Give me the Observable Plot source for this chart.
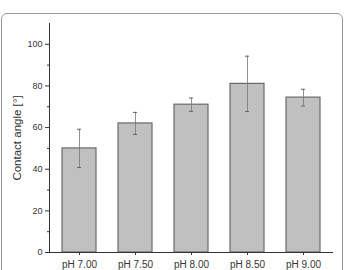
<!DOCTYPE html>
<html><head><meta charset="utf-8">
<script src="https://cdn.jsdelivr.net/npm/d3@7"></script>
<script src="https://cdn.jsdelivr.net/npm/@observablehq/plot@0.6"></script>
<style>
html,body{margin:0;padding:0;background:#fff;overflow:hidden;}
#wrap{position:relative;width:346px;height:270px;}
#border{position:absolute;left:1px;top:13px;width:342px;height:300px;border:1px solid #9a9a9a;border-radius:6px;box-sizing:border-box;}
#chart{position:absolute;left:0;top:0;}
</style></head>
<body><div id="wrap"><div id="border"></div><div id="chart"></div></div>
<script>
const categories = ["pH 7.00","pH 7.50","pH 8.00","pH 8.50","pH 9.00"];
const angles = [50, 62, 71, 81, 74.4];
const errors = [9.2, 5.3, 3.2, 13.3, 4.0];
const majorTicks = [0,20,40,60,80,100];
const minorTicks = [10,30,50,70,90];
const yLabel = "Contact angle [°]";

const data = categories.map((c,i)=>({cat:c, v:angles[i], lo:angles[i]-errors[i], hi:angles[i]+errors[i]}));

const chart = Plot.plot({
  width:346, height:270,
  marginLeft:49, marginRight:13, marginTop:23, marginBottom:18,
  style:{fontFamily:"Liberation Sans, Arial, sans-serif", color:"#333", background:"transparent"},
  x:{domain:categories, paddingInner:0.4, paddingOuter:0.2},
  y:{domain:[0,110]},
  marks:[
    Plot.barY(data,{x:"cat", y:"v", fill:"#c0c0c0", stroke:"#6a6a6a", strokeWidth:1.2}),
    Plot.ruleX(data,{x:"cat", y1:"lo", y2:"hi", stroke:"#777", strokeWidth:0.8}),
    Plot.tickY(data,{x:"cat", y:"lo", stroke:"#555", strokeWidth:0.9, insetLeft:15, insetRight:15}),
    Plot.tickY(data,{x:"cat", y:"hi", stroke:"#555", strokeWidth:0.9, insetLeft:15, insetRight:15}),
    Plot.axisY({ticks:majorTicks, tickSize:4, tickPadding:3, fontSize:9, stroke:"#333", fill:"#333", label:null}),
    Plot.axisY({ticks:minorTicks, tickSize:2, text:null, label:null, stroke:"#333"}),
    Plot.axisX({tickSize:3, tickPadding:5, fontSize:10, stroke:"#333", fill:"#333", label:null}),
    Plot.text([yLabel], {frameAnchor:"left", textAnchor:"middle", rotate:-90, dx:-32, fontSize:11.5, fill:"#333"}),
    Plot.frame({anchor:"left", stroke:"#333"}),
    Plot.ruleY([0],{stroke:"#333"})
  ]
});
document.getElementById("chart").appendChild(chart);
</script></body></html>
